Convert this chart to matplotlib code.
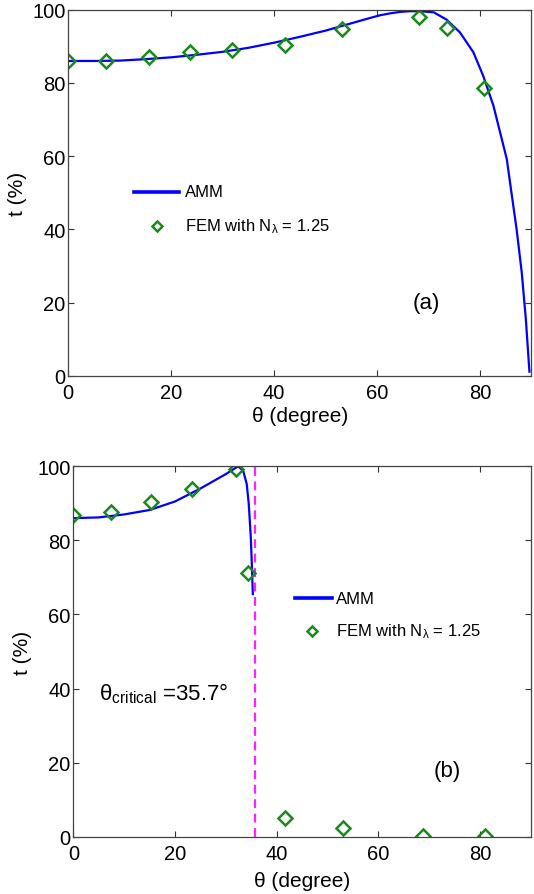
import matplotlib
matplotlib.use("Agg")
import matplotlib.pyplot as plt

plt.rcParams['font.family'] = ['Liberation Sans', 'DejaVu Sans']
plt.rcParams['mathtext.fontset'] = 'custom'
plt.rcParams['mathtext.rm'] = 'Liberation Sans'
plt.rcParams['mathtext.it'] = 'Liberation Sans'

# (a) AMM curve
amm_a_x = [0, 5, 10, 15, 20, 25, 30, 35, 40, 45, 50, 53, 56, 58.5, 60.6, 62.5, 64.4, 66.3, 68.3, 71.0, 73.5, 76.1,
           78.7, 80.6, 82.6, 83.9, 85.2, 86.1, 87.1, 88.1, 88.9, 89.6]
amm_a_y = [86, 86, 86.1, 86.5, 87, 87.7, 88.5, 89.6, 91, 92.6, 94.3, 95.5, 96.7, 97.7, 98.5, 99.0, 99.4, 99.6, 99.6,
           99.3, 97.3, 93.8, 88.4, 82.0, 73.8, 66.5, 59.2, 50.1, 40.1, 28.3, 15.5, 1.1]
# (a) FEM points
fem_a_x = [0, 7.4, 15.6, 23.6, 31.9, 42.2, 53.1, 68.2, 73.5, 80.8]
fem_a_y = [86, 86, 87, 88.5, 89, 90.3, 94.8, 97.9, 94.9, 78.6]

# (b) AMM curve
amm_b_x = [0, 5, 10, 15, 20, 25, 30, 32.4, 33.4, 34.1, 34.5, 34.9, 35.1, 35.3]
amm_b_y = [86, 86.2, 87, 88.2, 90.5, 94, 97.9, 100, 98.8, 95.2, 89.8, 80.8, 73.6, 65.5]
# (b) FEM points
fem_b_x = [0, 7.5, 15.3, 23.3, 32.0, 34.4, 41.7, 53.1, 68.7, 81]
fem_b_y = [86.9, 87.6, 90.3, 93.9, 99.4, 71.1, 4.95, 2.3, 0.3, 0.3]

theta_c = 35.7

fig = plt.figure(figsize=(5.34, 8.95), dpi=100)
ax1 = fig.add_axes([0.1279, 0.5791, 0.8674, 0.4089])
ax2 = fig.add_axes([0.1373, 0.0640, 0.8571, 0.4139])

green = '#1a8a1a'
for ax in (ax1, ax2):
    ax.set_xlim(0, 90)
    ax.set_ylim(0, 100)
    ax.set_xticks([0, 20, 40, 60, 80])
    ax.set_yticks([0, 20, 40, 60, 80, 100])
    ax.tick_params(direction='in', top=True, right=True, labelsize=14.5,
                   length=4, width=0.8, color='#333333', pad=2)
    ax.tick_params(axis='x', pad=5)
    ax.set_ylabel('t (%)', fontsize=15, labelpad=4)
    for s in ax.spines.values():
        s.set_linewidth(0.9)
        s.set_color('#444444')
ax1.set_xlabel('θ (degree)', fontsize=15, labelpad=3)
ax2.set_xlabel('θ (degree)', fontsize=15, labelpad=6)

ax1.plot(amm_a_x, amm_a_y, color='blue', lw=1.6)
ax1.plot(fem_a_x, fem_a_y, 'D', mfc='none', mec=green, mew=1.8, ms=7)
ax1.plot([12.8, 21.6], [50.2, 50.2], color='blue', lw=2.6)
ax1.text(22.6, 50.2, 'AMM', fontsize=12, va='center')
ax1.plot([17.3], [40.9], 'D', mfc='none', mec=green, mew=1.8, ms=5.5)
ax1.text(22.6, 41, r'FEM with N$_\lambda$ = 1.25', fontsize=12, va='center')
ax1.text(69.6, 20.1, '(a)', fontsize=16, ha='center', va='center')

ax2.plot(amm_b_x, amm_b_y, color='blue', lw=1.6)
ax2.plot([theta_c, theta_c], [0, 100], color='#ff22ff', lw=1.6, ls=(0, (4, 2.5)))
ax2.plot(fem_b_x, fem_b_y, 'D', mfc='none', mec=green, mew=1.8, ms=7)
ax2.plot([43.6, 50.8], [64.4, 64.4], color='blue', lw=2.6)
ax2.text(51.6, 64.4, 'AMM', fontsize=12, va='center')
ax2.plot([47.0], [55.4], 'D', mfc='none', mec=green, mew=1.8, ms=5.5)
ax2.text(51.6, 55.6, r'FEM with N$_\lambda$ = 1.25', fontsize=12, va='center')
ax2.text(73.5, 17.8, '(b)', fontsize=16, ha='center', va='center')
ax2.text(5, 39, r'θ$_{\mathrm{critical}}$ =35.7°', fontsize=16, va='center')

fig.savefig('out.png', dpi=100)
